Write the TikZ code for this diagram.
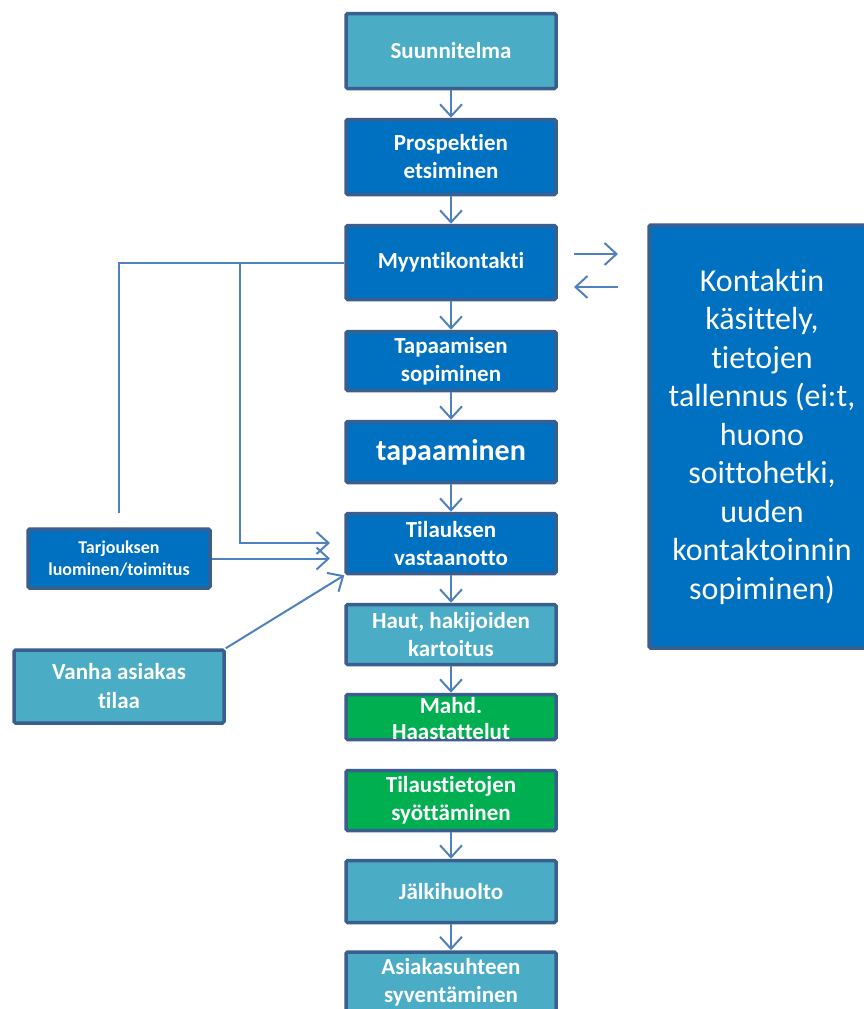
\documentclass[tikz,border=0pt]{standalone}
\usepackage{fontspec}
\setmainfont[Ligatures=NoCommon,RawFeature=-liga]{Carlito}
\usetikzlibrary{arrows.meta}
\definecolor{cteal}{HTML}{4BACC6}
\definecolor{cblue}{HTML}{0070C0}
\definecolor{cgreen}{HTML}{00B050}
\definecolor{boxedge}{HTML}{3A5F8E}
\definecolor{linkblue}{HTML}{4F81BD}
\tikzset{
  box/.style={draw=boxedge, line width=3.5pt, rounded corners=1.5pt,
    minimum width=210pt, text=white, align=center, inner sep=0pt,
    font=\bfseries\fontsize{23}{28}\selectfont},
  boxtext/.style={text=white, align=center, inner sep=0pt,
    font=\bfseries\fontsize{23}{26}\selectfont},
  flow/.style={draw=linkblue, line width=2pt,
    -{Straight Barb[length=12pt,width=22pt]}},
  link/.style={draw=linkblue, line width=2pt},
}
\begin{document}
\begin{tikzpicture}[x=1pt,y=-1pt]
\useasboundingbox (0,0) rectangle (864,1009);

% main process column
\node[box, fill=cteal, minimum height=75pt] (suun) at (451,51) {Suunnitelma};
\node[box, fill=cblue, minimum height=75pt] (prosp) at (451,157) {Prospektien\\etsiminen};
\node[box, fill=cblue, minimum height=74pt] (myynti) at (451,262.5) {Myyntikontakti};
\node[box, fill=cblue, minimum height=59pt] (tapsop) at (451,361) {Tapaamisen\\sopiminen};
\node[box, fill=cblue, minimum height=61pt, font=\bfseries\fontsize{30}{36}\selectfont] (tapaam) at (451,452) {tapaaminen};
\node[box, fill=cblue, minimum height=60pt] (tilaus) at (451,543.5) {Tilauksen\\vastaanotto};
\node[box, fill=cteal, minimum height=60pt] (haut) at (451,634.5) {Haut, hakijoiden\\kartoitus};
\node[box, fill=cgreen, minimum height=45pt] (mahd) at (451,717) {};
\node[boxtext] (mahdtext) at (451,719) {Mahd.\\Haastattelut};
\node[box, fill=cgreen, minimum height=60pt] (tilaust) at (451,800.5) {Tilaustietojen\\syöttäminen};
\node[box, fill=cteal, minimum height=62pt] (jalki) at (451,891.5) {Jälkihuolto};
\node[box, fill=cteal, minimum height=77pt] (asiak) at (451,990.5) {};
\node[boxtext, font=\bfseries\fontsize{23}{28}\selectfont] (asiaktext) at (451,982) {Asiakasuhteen\\syventäminen};

% side boxes
\node[box, fill=cblue, minimum width=182pt, minimum height=59pt,
  font=\bfseries\fontsize{18}{22}\selectfont] (tarj) at (119,558.5) {Tarjouksen\\luominen/toimitus};
\node[box, fill=cteal, minimum height=73pt,
  font=\bfseries\fontsize{23}{29}\selectfont] (vanha) at (119,686.5) {Vanha asiakas\\tilaa};
\node[box, fill=cblue, minimum width=226pt, minimum height=423pt,
  font=\fontsize{32}{38.5}\selectfont] (kontakti) at (762,436.5)
  {Kontaktin\\käsittely,\\tietojen\\tallennus (ei:t,\\huono\\soittohetki,\\uuden\\kontaktoinnin\\sopiminen)};

% flow arrows
\draw[flow] (suun) -- (prosp);
\draw[flow] (prosp) -- (myynti);
\draw[flow] (myynti) -- (tapsop);
\draw[flow] (tapsop) -- (tapaam);
\draw[flow] (tapaam) -- (tilaus);
\draw[flow] (tilaus) -- (haut);
\draw[flow] (haut) -- (mahd);
\draw[flow] (tilaust) -- (jalki);
\draw[flow] (jalki) -- (asiak);

% feedback lines from the contact step
\coordinate (fbA) at (119,262.5);
\coordinate (fbAend) at (119,513);
\coordinate (fbB) at (240,262.5);
\coordinate (inA) at (330,543);
\coordinate (inB) at (330,558.5);
\draw[link] (myynti.west) -- (fbA) -- (fbAend);
\draw[flow] (fbB) |- (inA);
\draw[flow] (tarj.east) -- (inB);
\draw[flow] (vanha.north east) -- (tilaus.south west);

% exchange with contact handling
\coordinate (exA1) at (574,254);
\coordinate (exA2) at (618,254);
\coordinate (exB1) at (618,287);
\coordinate (exB2) at (574,287);
\draw[flow] (exA1) -- (exA2);
\draw[flow] (exB1) -- (exB2);
\end{tikzpicture}
\end{document}
